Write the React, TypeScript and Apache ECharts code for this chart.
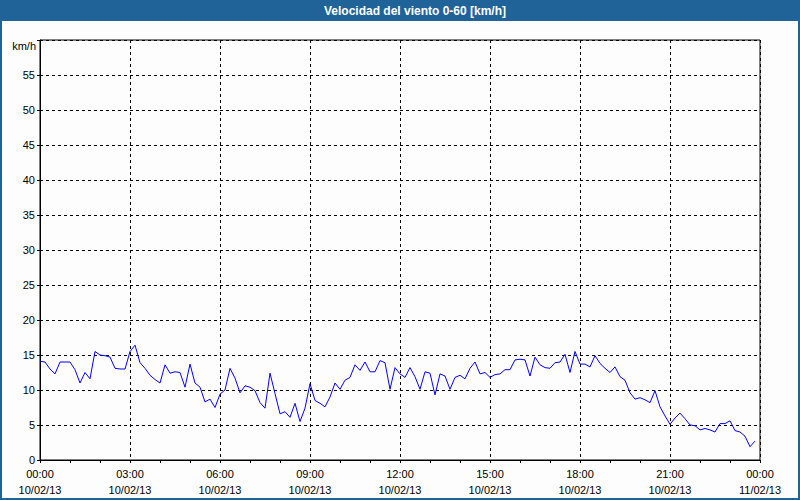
import React, { useEffect, useRef } from "react";
import * as echarts from "echarts";

const chartTitle = "Velocidad del viento 0-60 [km/h]";
const yUnit = "km/h";
const stepMinutes = 10;
const xTickTimes = ["00:00", "03:00", "06:00", "09:00", "12:00", "15:00", "18:00", "21:00", "00:00"];
const xTickDates = ["10/02/13", "10/02/13", "10/02/13", "10/02/13", "10/02/13", "10/02/13", "10/02/13", "10/02/13", "11/02/13"];

const windSpeed = [
  14.1, 14.0, 13.0, 12.3, 14.0, 14.0, 14.0, 12.9, 11.0, 12.5, 11.6, 15.5, 15.0, 14.9, 14.7, 13.1, 13.0, 13.0,
  15.5, 16.4, 13.9, 13.1, 12.1, 11.5, 11.0, 13.6, 12.4, 12.6, 12.5, 10.4, 13.7, 11.0, 10.4, 8.3, 8.7, 7.5, 9.4,
  10.0, 13.1, 11.7, 9.6, 10.6, 10.4, 9.9, 8.2, 7.4, 12.4, 9.5, 6.6, 6.9, 6.1, 8.1, 5.5, 7.4, 10.9,
  8.5, 8.1, 7.6, 9.0, 11.0, 10.1, 11.4, 11.8, 13.6, 12.8, 14.0, 12.6, 12.6, 14.2, 13.9, 10.1, 13.2, 12.3,
  11.8, 13.2, 11.9, 10.1, 12.6, 12.4, 9.3, 12.3, 12.0, 10.1, 11.8, 12.1, 11.6, 13.1, 14.0, 12.3, 12.5, 11.8,
  12.2, 12.3, 12.9, 12.9, 14.3, 14.4, 14.3, 12.0, 14.7, 13.6, 13.2, 13.1, 13.9, 14.0, 15.1, 12.5, 15.5, 13.7,
  13.7, 13.3, 14.9, 13.8, 13.1, 12.5, 13.3, 11.9, 11.4, 9.6, 8.7, 8.9, 8.6, 8.2, 9.9, 7.6, 6.3, 5.1,
  6.0, 6.7, 5.9, 5.0, 4.9, 4.3, 4.5, 4.3, 4.0, 5.2, 5.2, 5.6, 4.2, 4.0, 3.4, 1.9, 2.7,
];

const FONT = "'Liberation Sans', Arial, sans-serif";
const BLUE = "#1f6399";

export default function App() {
  const ref = useRef<HTMLDivElement>(null);
  useEffect(() => {
    if (!ref.current) return;
    const chart = echarts.init(ref.current, null, { renderer: "svg" });
    const seriesData = windSpeed.map((v, i) => [i * stepMinutes, v]);
    chart.setOption({
      animation: false,
      backgroundColor: "#fcfdfc",
      grid: { left: 40, top: 40, right: 40, bottom: 40, show: true, borderColor: "#000", borderWidth: 1 },
      xAxis: {
        type: "value",
        min: 0,
        max: 1440,
        interval: 180,
        axisLine: { show: true, lineStyle: { color: "#000", width: 1 } },
        axisTick: { show: true, length: 3, lineStyle: { color: "#000" } },
        minorTick: { show: true, splitNumber: 3, length: 3, lineStyle: { color: "#000" } },
        splitLine: { show: true, lineStyle: { color: "#000", type: [3, 3], width: 1 } },
        axisLabel: {
          margin: 6,
          fontFamily: FONT,
          fontSize: 11,
          color: "#000",
          lineHeight: 16,
          formatter: (v: number) => {
            const k = Math.round(v / 180);
            return xTickTimes[k] + "\n" + xTickDates[k];
          },
        },
      },
      yAxis: {
        type: "value",
        min: 0,
        max: 60,
        interval: 5,
        axisLine: { show: true, lineStyle: { color: "#000", width: 1 } },
        axisTick: { show: true, length: 3, lineStyle: { color: "#000" } },
        splitLine: { show: true, lineStyle: { color: "#000", type: [3, 3], width: 1 } },
        axisLabel: {
          margin: 5,
          fontFamily: FONT,
          fontSize: 11,
          color: "#000",
          formatter: (v: number) => (v >= 60 ? "" : String(v)),
        },
      },
      graphic: [
        { type: "rect", shape: { x: 0, y: 0, width: 800, height: 21 }, style: { fill: BLUE }, silent: true },
        { type: "rect", shape: { x: 0, y: 0, width: 2, height: 500 }, style: { fill: BLUE }, silent: true },
        { type: "rect", shape: { x: 798, y: 0, width: 2, height: 500 }, style: { fill: BLUE }, silent: true },
        { type: "rect", shape: { x: 0, y: 498, width: 800, height: 2 }, style: { fill: BLUE }, silent: true },
        {
          type: "text",
          x: 415,
          y: 11,
          style: {
            text: chartTitle,
            fill: "#fff",
            font: `bold 12px ${FONT}`,
            textAlign: "center",
            textVerticalAlign: "middle",
          },
        },
        {
          type: "text",
          x: 36,
          y: 46,
          style: {
            text: yUnit,
            fill: "#000",
            font: `11px ${FONT}`,
            textAlign: "right",
            textVerticalAlign: "middle",
          },
        },
      ],
      series: [
        {
          type: "line",
          data: seriesData,
          showSymbol: false,
          symbol: "none",
          lineStyle: { color: "#0000ff", width: 1 },
          itemStyle: { color: "#0000ff" },
        },
      ],
    });
    return () => chart.dispose();
  }, []);
  return (
    <div
      ref={ref}
      style={{ position: "absolute", left: 0, top: 0, width: 800, height: 500 }}
    />
  );
}
